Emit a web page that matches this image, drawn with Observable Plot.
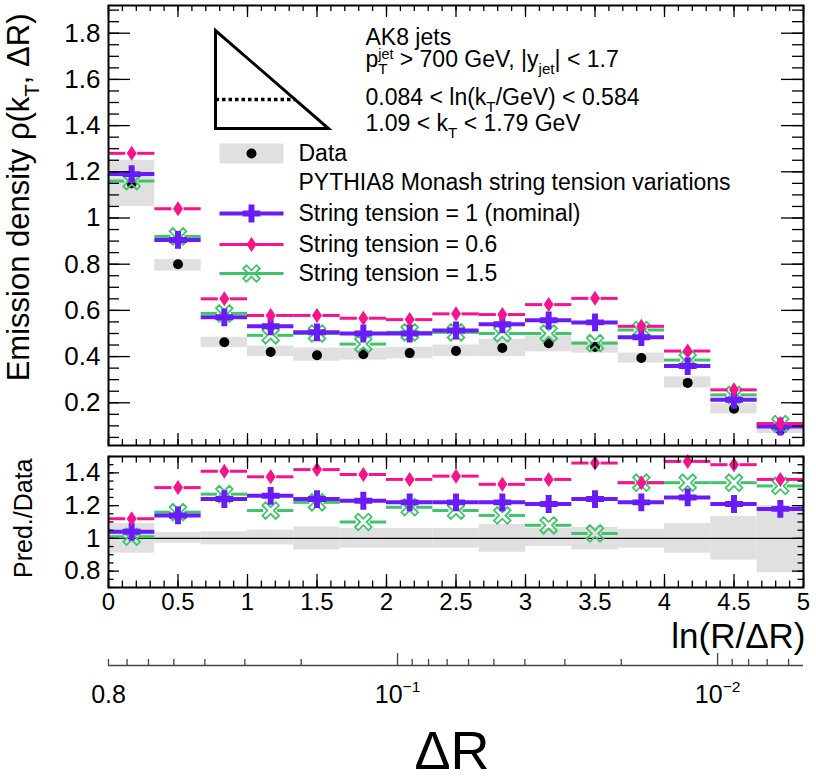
<!DOCTYPE html>
<html><head><meta charset="utf-8">
<script src="https://cdn.jsdelivr.net/npm/d3@7"></script>
<script src="https://cdn.jsdelivr.net/npm/@observablehq/plot@0.6"></script>
<style>
body{margin:0;background:#fff;}
#chart{position:relative;width:816px;height:779px;overflow:hidden;}
#chart svg{position:absolute;left:0;}
</style></head><body><div id="chart"></div>
<script>
// ---------------- DATA ----------------
const binEdges = [0, 1/3, 2/3, 1, 4/3, 5/3, 2, 7/3, 8/3, 3, 10/3, 11/3, 4, 13/3, 14/3, 5];
const dataValues   = [1.15, 0.80, 0.462, 0.42, 0.406, 0.41, 0.415, 0.424, 0.437, 0.458, 0.442, 0.394, 0.286, 0.174, 0.082];
const dataLow      = [1.05, 0.77, 0.44, 0.40, 0.38, 0.385, 0.39, 0.40, 0.40, 0.42, 0.415, 0.372, 0.264, 0.152, 0.067];
const dataHigh     = [1.25, 0.82, 0.484, 0.445, 0.437, 0.437, 0.44, 0.45, 0.475, 0.49, 0.467, 0.415, 0.312, 0.196, 0.092];
const nominalValues   = [1.19, 0.905, 0.57, 0.531, 0.505, 0.50, 0.50, 0.513, 0.54, 0.557, 0.548, 0.484, 0.359, 0.213, 0.097];
const tension06Values = [1.28, 1.04, 0.65, 0.578, 0.578, 0.566, 0.56, 0.585, 0.582, 0.625, 0.652, 0.531, 0.424, 0.256, 0.11];
const tension15Values = [1.16, 0.92, 0.587, 0.492, 0.50, 0.454, 0.505, 0.505, 0.50, 0.50, 0.458, 0.515, 0.385, 0.234, 0.108];
const ratioBandLow  = [0.91, 0.97, 0.96, 0.96, 0.93, 0.94, 0.94, 0.94, 0.915, 0.95, 0.93, 0.94, 0.91, 0.867, 0.79];
const ratioBandHigh = [1.09, 1.036, 1.04, 1.05, 1.07, 1.06, 1.06, 1.06, 1.085, 1.06, 1.067, 1.055, 1.09, 1.133, 1.20];
const ratioNominal   = [1.04, 1.14, 1.24, 1.26, 1.24, 1.23, 1.22, 1.22, 1.22, 1.21, 1.24, 1.22, 1.25, 1.21, 1.18];
const ratioTension06 = [1.12, 1.31, 1.41, 1.376, 1.42, 1.39, 1.36, 1.38, 1.33, 1.36, 1.46, 1.34, 1.47, 1.45, 1.36];
const ratioTension15 = [1.01, 1.16, 1.27, 1.17, 1.22, 1.10, 1.19, 1.17, 1.14, 1.08, 1.03, 1.34, 1.34, 1.34, 1.32];

const xTicks = [0, 0.5, 1, 1.5, 2, 2.5, 3, 3.5, 4, 4.5, 5];
const yTicksTop = [0.2, 0.4, 0.6, 0.8, 1, 1.2, 1.4, 1.6, 1.8];
const yTicksRatio = [0.8, 1, 1.2, 1.4];
const deltaRMajor = [0.8, 0.1, 0.01];
const deltaRLabels = ["0.8", "10^{−1}", "10^{−2}"];
const deltaRMinor = [0.8, 0.7, 0.6, 0.5, 0.4, 0.3, 0.2, 0.09, 0.08, 0.07, 0.06, 0.05, 0.04, 0.03, 0.02, 0.009, 0.008, 0.007, 0.006];
const jetR = 0.8;

const annotationLines = ["AK8 jets", "p_{T}^{jet} > 700 GeV, |y_{jet}| < 1.7", "0.084 < ln(k_{T}/GeV) < 0.584", "1.09 < k_{T} < 1.79 GeV"];
const legendLabels = ["Data", "PYTHIA8 Monash string tension variations", "String tension = 1 (nominal)", "String tension = 0.6", "String tension = 1.5"];
const yTitleTop = "Emission density ρ(k_{T}, ΔR)";
const yTitleRatio = "Pred./Data";
const xTitle = "ln(R/ΔR)";
const xTitle2 = "ΔR";

// ---------------- STYLE ----------------
const PURPLE = "#6a1cf8", PINK = "#f5148c", GREEN = "#40c46a", GRAY = "#e0e0e0";
const FONT = "'Liberation Sans', Arial, Helvetica, sans-serif";

const bins = dataValues.map((v, i) => ({
  lo: binEdges[i], hi: binEdges[i + 1], mid: (binEdges[i] + binEdges[i + 1]) / 2,
  data: v, dlo: dataLow[i], dhi: dataHigh[i], rlo: ratioBandLow[i], rhi: ratioBandHigh[i]
}));

const openX = {draw(ctx, size) {
  const a = Math.sqrt(size / Math.PI), w = a * 0.24, c = Math.SQRT1_2;
  const pts = [[w,w],[w,a],[-w,a],[-w,w],[-a,w],[-a,-w],[-w,-w],[-w,-a],[w,-a],[w,-w],[a,-w],[a,w]];
  pts.forEach(([x, y], i) => { const X = (x - y) * c, Y = (x + y) * c; i ? ctx.lineTo(X, Y) : ctx.moveTo(X, Y); });
  ctx.closePath();
}};
const fatDiamond = {draw(ctx, size) {
  const r = Math.sqrt(size / Math.PI);
  ctx.moveTo(0, -1.5 * r); ctx.lineTo(r, 0); ctx.lineTo(0, 1.5 * r); ctx.lineTo(-r, 0); ctx.closePath();
}};
const series = [
  {label: legendLabels[4], color: GREEN, top: tension15Values, ratio: ratioTension15, symbol: openX, r: 9.5, fill: "none", stroke: GREEN, msw: 1.8, lw: 3, gap: 7},
  {label: legendLabels[2], color: PURPLE, top: nominalValues, ratio: ratioNominal, symbol: "cross", r: 7.5, fill: PURPLE, stroke: "none", msw: 0, lw: 4, gap: 0},
  {label: legendLabels[3], color: PINK, top: tension06Values, ratio: ratioTension06, symbol: fatDiamond, r: 5, fill: PINK, stroke: "none", msw: 0, lw: 3, gap: 6}
];

function seriesMarks(s, values) {
  const rows = bins.map((b, i) => ({...b, v: values[i]}));
  const m = [];
  if (s.gap) {
    m.push(Plot.ruleY(rows, {y: "v", x1: "lo", x2: "mid", insetRight: s.gap, stroke: s.color, strokeWidth: s.lw}));
    m.push(Plot.ruleY(rows, {y: "v", x1: "mid", x2: "hi", insetLeft: s.gap, stroke: s.color, strokeWidth: s.lw}));
  } else {
    m.push(Plot.ruleY(rows, {y: "v", x1: "lo", x2: "hi", stroke: s.color, strokeWidth: s.lw}));
  }
  m.push(Plot.dot(rows, {x: "mid", y: "v", symbol: s.symbol, r: s.r, fill: s.fill, stroke: s.stroke, strokeWidth: s.msw}));
  return m;
}

function frameTicks(W, H, xMinor, yMajor, yMinor, lx, ly) {
  const st = {stroke: "black", strokeWidth: 1.3};
  return [
    Plot.tickX(xTicks, {x: d => d, insetTop: H - lx[0], ...st}),
    Plot.tickX(xTicks, {x: d => d, insetBottom: H - lx[0], ...st}),
    Plot.tickX(xMinor, {x: d => d, insetTop: H - lx[1], ...st}),
    Plot.tickX(xMinor, {x: d => d, insetBottom: H - lx[1], ...st}),
    Plot.tickY(yMajor, {y: d => d, insetRight: W - ly[0], ...st}),
    Plot.tickY(yMajor, {y: d => d, insetLeft: W - ly[0], ...st}),
    Plot.tickY(yMinor, {y: d => d, insetRight: W - ly[1], ...st}),
    Plot.tickY(yMinor, {y: d => d, insetLeft: W - ly[1], ...st})
  ];
}

const styleObj = {fontFamily: FONT, color: "black", background: "transparent", overflow: "visible"};
const ML = 108, MR = 13, FW = 816 - ML - MR;
const xMinor = d3.range(0, 51).map(i => i / 10);

// custom legend/annotation shapes (pixel geometry)
const triangleShape = {draw(ctx) { ctx.moveTo(0, 0); ctx.lineTo(0, 98); ctx.lineTo(113, 98); ctx.closePath(); }};
const dottedShape = {draw(ctx) { ctx.moveTo(0, 69); ctx.lineTo(80, 69); }};
const boxShape = {draw(ctx) { ctx.rect(-32, -10, 64, 20); }};
const lineShape = {draw(ctx) { ctx.moveTo(-32, 0); ctx.lineTo(32, 0); }};

const at = (dx, dy) => ({frameAnchor: "top-left", dx, dy});
const txt = {lineAnchor: "middle", textAnchor: "start", fontSize: 23, text: d => d};
const legX = 143, legTX = 190, legRows = [148, 177, 208, 239, 268];
const annX = 257, annRows = [32, 54, 92, 118];

const legendMarks = [
  Plot.dot([0], {...at(107, 25), symbol: triangleShape, r: 1, fill: "none", stroke: "black", strokeWidth: 3}),
  Plot.dot([0], {...at(107, 25), symbol: dottedShape, r: 1, fill: "none", stroke: "black", strokeWidth: 3.5, strokeDasharray: "3.5,3"}),
  ...annotationLines.map((t, i) => Plot.text([t], {...at(annX, annRows[i]), ...txt})),
  Plot.dot([0], {...at(legX, legRows[0]), symbol: boxShape, r: 1, fill: GRAY, stroke: "none"}),
  Plot.dot([0], {...at(legX, legRows[0]), r: 5, fill: "black"}),
  ...legendLabels.map((t, i) => Plot.text([t], {...at(legTX, legRows[i]), ...txt})),
  ...[series[1], series[2], series[0]].flatMap((s, k) => [
    Plot.dot([0], {...at(legX, legRows[2 + k]), symbol: lineShape, r: 1, fill: "none", stroke: s.color, strokeWidth: s.lw}),
    Plot.dot([0], {...at(legX, legRows[2 + k]), symbol: s.symbol, r: s.r, fill: s.fill, stroke: s.stroke, strokeWidth: s.msw})
  ])
];

const topPlot = Plot.plot({
  width: 816, height: 446, marginLeft: ML, marginRight: MR, marginTop: 5, marginBottom: 1,
  style: styleObj,
  x: {domain: [0, 5], axis: null},
  y: {domain: [0.015, 1.92]},
  marks: [
    Plot.rect(bins, {x1: "lo", x2: "hi", y1: "dlo", y2: "dhi", fill: GRAY}),
    Plot.dot(bins, {x: "mid", y: "data", r: 5, fill: "black"}),
    ...series.flatMap(s => seriesMarks(s, s.top)),
    ...frameTicks(FW, 440, xMinor, yTicksTop, d3.range(1, 39).map(i => i * 0.05), [12, 6], [22, 11]),
    Plot.axisY(yTicksTop, {tickSize: 0, tickPadding: 8, fontSize: 26, tickFormat: d => String(d), label: null}),
    Plot.frame({stroke: "black", strokeWidth: 2}),
    ...legendMarks,
    Plot.text([yTitleTop], {...at(-89, 8), text: d => d, rotate: -90, textAnchor: "end", lineAnchor: "middle", fontSize: 31})
  ]
});

const ratioPlot = Plot.plot({
  width: 816, height: 190, marginLeft: ML, marginRight: MR, marginTop: 6, marginBottom: 53,
  style: styleObj,
  x: {domain: [0, 5]},
  y: {domain: [0.7, 1.5]},
  marks: [
    Plot.rect(bins, {x1: "lo", x2: "hi", y1: "rlo", y2: "rhi", fill: GRAY}),
    Plot.ruleY([1], {stroke: "black", strokeWidth: 1.2}),
    ...series.flatMap(s => seriesMarks(s, s.ratio)),
    ...frameTicks(FW, 131, xMinor, yTicksRatio, d3.range(14, 31).map(i => i * 0.05), [13, 6.5], [11, 5.5]),
    Plot.axisY(yTicksRatio, {tickSize: 0, tickPadding: 8, fontSize: 26, tickFormat: d => String(d), label: null}),
    Plot.axisX(xTicks, {tickSize: 0, tickPadding: 5, fontSize: 24, tickFormat: d => String(d), label: null}),
    Plot.frame({stroke: "black", strokeWidth: 2}),
    Plot.text([xTitle], {frameAnchor: "bottom-right", dy: 49, dx: 2, text: d => d, textAnchor: "end", lineAnchor: "middle", fontSize: 35}),
    Plot.text([yTitleRatio], {...at(-85, 2), text: d => d, rotate: -90, textAnchor: "end", lineAnchor: "middle", fontSize: 25})
  ]
});

const axisPlot = Plot.plot({
  width: 816, height: 141, marginLeft: ML, marginRight: MR, marginTop: 15, marginBottom: 114,
  style: styleObj,
  x: {type: "log", domain: [jetR * Math.exp(-5), jetR], reverse: true, axis: null},
  y: {domain: [0, 1], axis: null},
  marks: [
    Plot.ruleY([0], {stroke: "#444", strokeWidth: 1.5}),
    Plot.tickX(deltaRMajor.slice(1), {x: d => d, stroke: "#444", strokeWidth: 1.3}),
    Plot.tickX(deltaRMinor, {x: d => d, insetTop: 6, stroke: "#444", strokeWidth: 1.3}),
    Plot.text(deltaRMajor, {x: d => d, frameAnchor: "bottom", dy: 29, lineAnchor: "middle", text: (d, i) => deltaRLabels[i], fontSize: 25}),
    Plot.text([xTitle2], {frameAnchor: "bottom", dx: -4, dy: 86, lineAnchor: "middle", text: d => d, fontSize: 54})
  ]
});

const chart = document.getElementById("chart");
[[topPlot, 0], [ratioPlot, 450], [axisPlot, 638]].forEach(([p, top]) => { p.style.top = top + "px"; chart.appendChild(p); });

// simple rich text: _{sub} and ^{sup}
function richify(svg) {
  svg.querySelectorAll("text").forEach(t => {
    const s = t.textContent;
    if (!/[_^]\{/.test(s)) return;
    const fs = parseFloat(getComputedStyle(t).fontSize) || 23;
    const parts = []; const re = /([_^])\{([^}]*)\}/g; let last = 0, m;
    while ((m = re.exec(s))) {
      if (m.index > last) parts.push({type: "n", s: s.slice(last, m.index)});
      parts.push({type: m[1] === "_" ? "sub" : "sup", s: m[2]});
      last = re.lastIndex;
    }
    if (last < s.length) parts.push({type: "n", s: s.slice(last)});
    t.textContent = "";
    let cur = 0, prev = null, prevSubW = 0, pendingDx = 0;
    parts.forEach(p => {
      const ts = document.createElementNS("http://www.w3.org/2000/svg", "tspan");
      ts.textContent = p.s;
      let target = 0;
      if (p.type === "sub") { target = 0.3 * fs; ts.setAttribute("font-size", 0.66 * fs); }
      else if (p.type === "sup") { target = (prev && prev.type === "sub" ? -0.34 : -0.42) * fs; ts.setAttribute("font-size", 0.62 * fs); }
      ts.setAttribute("dy", target - cur);
      cur = target;
      t.appendChild(ts);
      if (p.type === "sup" && prev && prev.type === "sub") {
        ts.setAttribute("dx", -prevSubW);
        const supW = ts.getComputedTextLength();
        pendingDx = Math.max(0, prevSubW - supW);
      } else if (pendingDx) { ts.setAttribute("dx", pendingDx); pendingDx = 0; }
      if (p.type === "sub") prevSubW = ts.getComputedTextLength();
      prev = p;
    });
  });
}
[topPlot, ratioPlot, axisPlot].forEach(richify);
</script></body></html>
